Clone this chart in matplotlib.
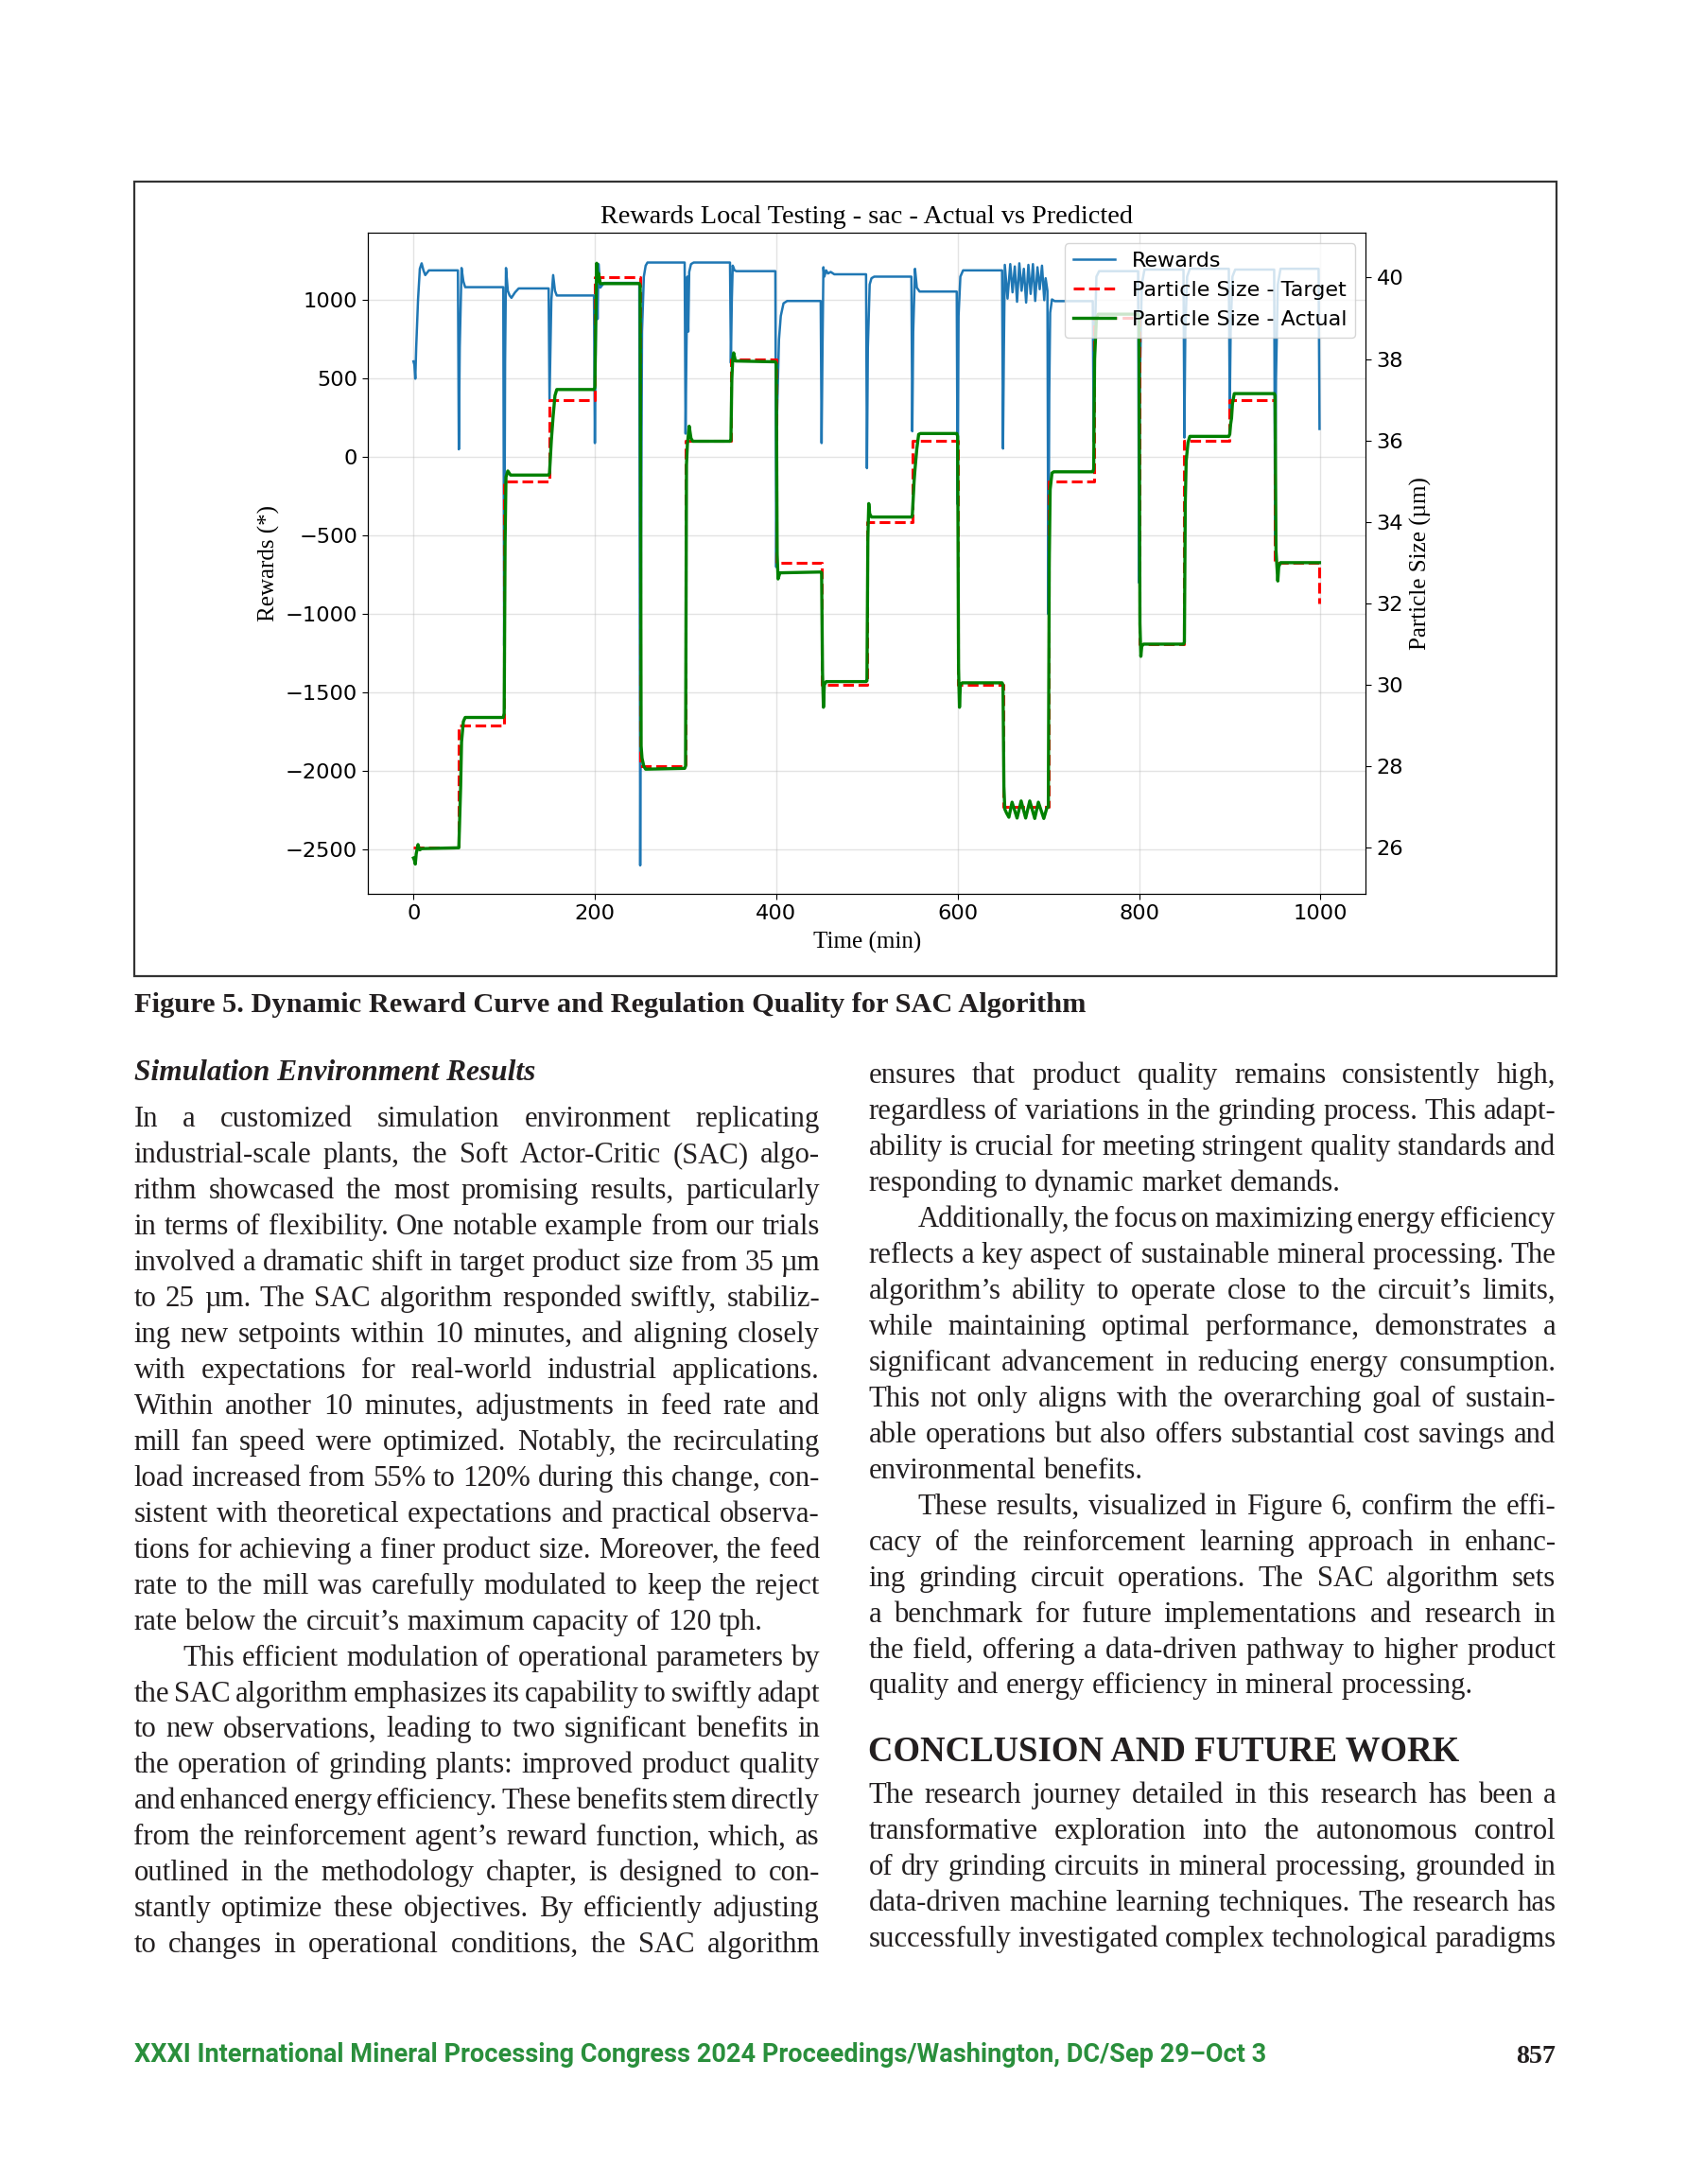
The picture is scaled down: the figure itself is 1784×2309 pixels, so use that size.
import matplotlib
matplotlib.use('Agg')
import matplotlib.pyplot as plt
from matplotlib.patches import Rectangle

W, H = 1784, 2309
DPI = 100

# ---- chart values ----
target_t = [0, 50, 100, 150, 200, 250, 300, 350, 400, 450, 500,
            550, 600, 650, 700, 750, 800, 850, 900, 950, 999]
target_v = [26, 29, 35, 37, 40, 28, 36, 38, 33, 30, 34,
            36, 30, 27, 35, 39, 31, 36, 37, 33, 32]

actual_t = [0, 1, 2, 3, 5, 6, 7, 9, 49,
            50, 52, 53, 55, 57, 99,
            100, 101, 102, 104, 107, 149,
            150, 152, 154, 156, 158, 199,
            200, 201, 202, 203, 204, 206, 249,
            250, 251, 252, 254, 256, 299,
            300, 301, 302, 304, 306, 308, 349,
            350, 351, 352, 353, 355, 399,
            400, 401, 402, 404, 449,
            450, 451, 452, 453, 455, 499,
            500, 501, 502, 503, 505, 549,
            550, 552, 553, 555, 557, 559, 599,
            600, 601, 602, 603, 605, 649,
            650, 651, 652, 654, 656.5, 660, 665.5, 670, 675, 679.5, 685, 689, 695, 698, 699,
            700, 701, 702, 704, 706, 749,
            750, 751, 753, 755, 799,
            800, 801, 802, 803, 805, 849,
            850, 851, 852, 854, 856, 899,
            900, 901, 902, 903, 905, 949,
            950, 951, 953, 954, 956, 999]
actual_v = [25.75, 25.7, 25.6, 25.85, 26.08, 26.0, 25.95, 25.98, 26.0,
            26.0, 27.5, 28.6, 29.1, 29.2, 29.2,
            29.3, 33.5, 35.1, 35.25, 35.15, 35.15,
            35.2, 36.0, 36.6, 37.1, 37.25, 37.25,
            37.3, 39.0, 40.35, 39.9, 40.1, 39.85, 39.85,
            39.8, 28.5, 28.2, 28.0, 27.93, 27.95,
            28.0, 35.4, 35.9, 36.35, 36.05, 35.98, 35.98,
            36.0, 37.5, 38.0, 38.15, 37.95, 37.93,
            37.9, 33.2, 32.6, 32.75, 32.77,
            32.75, 30.3, 29.45, 30.0, 30.08, 30.08,
            30.1, 33.6, 34.45, 34.2, 34.12, 34.12,
            34.15, 35.0, 35.3, 35.8, 36.15, 36.17, 36.17,
            36.1, 30.4, 29.45, 30.0, 30.05, 30.05,
            30.0, 27.5, 26.95, 26.85, 26.75, 27.12, 26.73, 27.15, 26.73, 27.15, 26.72, 27.12, 26.72, 26.95, 27.0,
            27.0, 33.0, 34.8, 35.2, 35.23, 35.23,
            35.3, 38.0, 39.0, 39.1, 39.1,
            39.0, 31.5, 30.7, 30.95, 31.0, 31.0,
            31.05, 34.5, 35.5, 35.95, 36.1, 36.1,
            36.15, 36.4, 36.55, 36.9, 37.15, 37.15,
            37.1, 33.3, 32.55, 32.9, 33.0, 33.0]

reward_t = [0, 1, 2, 3, 5, 7, 9, 11, 13, 15, 17, 49,
            50, 51, 53, 55, 57, 99,
            100, 101, 102, 104, 106, 108, 112, 116, 149,
            150, 152, 154, 156, 158, 199,
            200, 201, 202, 203, 204, 206, 210, 249,
            250, 251, 252, 254, 256, 258, 299,
            300, 301, 302, 303, 304, 306, 309, 349,
            350, 351, 352, 354, 356, 399,
            400, 401, 403, 405, 408, 412, 449,
            450, 451, 452, 453, 455, 457, 460, 464, 499,
            500, 501, 503, 505, 508, 549,
            550, 551, 553, 555, 558, 599,
            600, 601, 603, 606, 649,
            650, 651, 652, 655, 658, 660.5, 663, 665.5, 668, 670.5, 673, 675.5,
            678, 680.5, 683, 685.5, 688, 690.5, 693, 695.5, 697, 699,
            700, 701, 702, 704, 707, 749,
            750, 751, 753, 756, 799,
            800, 801, 803, 806, 849,
            850, 851, 853, 856, 899,
            900, 901, 903, 906, 949,
            950, 951, 953, 956, 998, 999]
reward_v = [610, 590, 500, 700, 1000, 1200, 1235, 1190, 1160, 1175, 1190, 1190,
            50, 700, 1205, 1120, 1083, 1083,
            -1200, 600, 1205, 1060, 1030, 1015, 1050, 1075, 1075,
            370, 1000, 1160, 1060, 1030, 1030,
            90, 800, 1200, 880, 1230, 1080, 1110, 1110,
            -2600, -500, 800, 1150, 1220, 1240, 1240,
            150, 700, 1150, 800, 1180, 1230, 1240, 1240,
            600, 1000, 1220, 1190, 1185, 1185,
            -700, 300, 750, 900, 980, 995, 995,
            90, 700, 1210, 1150, 1190, 1170, 1180, 1165, 1165,
            -70, 700, 1100, 1140, 1150, 1150,
            165, 800, 1200, 1080, 1055, 1055,
            -300, 900, 1150, 1190, 1190,
            55, 700, 1225, 1010, 1230, 1050, 1215, 990, 1235, 1060, 1200, 985,
            1225, 1040, 1230, 995, 1210, 1070, 1220, 1000, 1140, 1060,
            -1000, 400, 920, 1005, 994, 994,
            100, 700, 1150, 1185, 1185,
            -800, 500, 1100, 1195, 1195,
            125, 800, 1150, 1200, 1200,
            300, 800, 1150, 1195, 1195,
            -500, 500, 1100, 1200, 1200, 180]

x_ticks = [0, 200, 400, 600, 800, 1000]
reward_ticks = [1000, 500, 0, -500, -1000, -1500, -2000, -2500]
size_ticks = [26, 28, 30, 32, 34, 36, 38, 40]

# ---- page text ----
caption = 'Figure 5. Dynamic Reward Curve and Regulation Quality for SAC Algorithm'
subheading = 'Simulation Environment Results'
left_lines = [
    'In a customized simulation environment replicating',
    'industrial-scale plants, the Soft Actor-Critic (SAC) algo-',
    'rithm showcased the most promising results, particularly',
    'in terms of flexibility. One notable example from our trials',
    'involved a dramatic shift in target product size from 35 µm',
    'to 25 µm. The SAC algorithm responded swiftly, stabiliz-',
    'ing new setpoints within 10 minutes, and aligning closely',
    'with expectations for real-world industrial applications.',
    'Within another 10 minutes, adjustments in feed rate and',
    'mill fan speed were optimized. Notably, the recirculating',
    'load increased from 55% to 120% during this change, con-',
    'sistent with theoretical expectations and practical observa-',
    'tions for achieving a finer product size. Moreover, the feed',
    'rate to the mill was carefully modulated to keep the reject',
    'rate below the circuit’s maximum capacity of 120 tph.',
    'This efficient modulation of operational parameters by',
    'the SAC algorithm emphasizes its capability to swiftly adapt',
    'to new observations, leading to two significant benefits in',
    'the operation of grinding plants: improved product quality',
    'and enhanced energy efficiency. These benefits stem directly',
    'from the reinforcement agent’s reward function, which, as',
    'outlined in the methodology chapter, is designed to con-',
    'stantly optimize these objectives. By efficiently adjusting',
    'to changes in operational conditions, the SAC algorithm',
]
left_last = [14]
left_indent = [15]
right_lines = [
    'ensures that product quality remains consistently high,',
    'regardless of variations in the grinding process. This adapt-',
    'ability is crucial for meeting stringent quality standards and',
    'responding to dynamic market demands.',
    'Additionally, the focus on maximizing energy efficiency',
    'reflects a key aspect of sustainable mineral processing. The',
    'algorithm’s ability to operate close to the circuit’s limits,',
    'while maintaining optimal performance, demonstrates a',
    'significant advancement in reducing energy consumption.',
    'This not only aligns with the overarching goal of sustain-',
    'able operations but also offers substantial cost savings and',
    'environmental benefits.',
    'These results, visualized in Figure 6, confirm the effi-',
    'cacy of the reinforcement learning approach in enhanc-',
    'ing grinding circuit operations. The SAC algorithm sets',
    'a benchmark for future implementations and research in',
    'the field, offering a data-driven pathway to higher product',
    'quality and energy efficiency in mineral processing.',
]
right_last = [3, 11, 17]
right_indent = [4, 12]
heading = 'CONCLUSION AND FUTURE WORK'
conclusion_lines = [
    'The research journey detailed in this research has been a',
    'transformative exploration into the autonomous control',
    'of dry grinding circuits in mineral processing, grounded in',
    'data-driven machine learning techniques. The research has',
    'successfully investigated complex technological paradigms',
]
footer = 'XXXI International Mineral Processing Congress 2024 Proceedings/Washington, DC/Sep 29–Oct 3'
page_no = '857'

SERIF = 'Liberation Serif'
INK = '#231f20'


def fx(x):
    return x / W


def fy(y):
    return 1 - y / H


def width_of(t, r):
    return t.get_window_extent(r).width


def fit_text(fig, r, x, y, s, width, ha='left', **kw):
    t = fig.text(fx(x), fy(y), s, fontsize=20, ha=ha, va='baseline', **kw)
    t.set_fontsize(20 * width / width_of(t, r))
    return t


def justify(fig, r, line, x0, x1, y, size, last=False, indent=0):
    words = line.split()
    arts = [fig.text(0, fy(y), w, fontsize=size, family=SERIF, color=INK,
                     va='baseline') for w in words]
    widths = [width_of(a, r) for a in arts]
    probe = fig.text(0, 0, 'a a', fontsize=size, family=SERIF)
    single = fig.text(0, 0, 'aa', fontsize=size, family=SERIF)
    space = width_of(probe, r) - width_of(single, r)
    probe.remove()
    single.remove()
    if last or len(words) == 1:
        gap = space
    else:
        gap = (x1 - x0 - indent - sum(widths)) / (len(words) - 1)
    x = x0 + indent
    for a, w in zip(arts, widths):
        a.set_x(fx(x))
        x += w + gap


def draw_chart(fig):
    ax1 = fig.add_axes([fx(389.3), fy(945), (1444.3 - 389.3) / W, (945 - 246) / H])
    l1, = ax1.plot(reward_t, reward_v, color='#1f77b4', lw=1.8, label='Rewards')
    ax1.set_xlim(-50, 1050)
    ax1.set_ylim(-2781, 1430)
    ax1.set_xticks(x_ticks)
    ax1.set_yticks(reward_ticks)
    ax1.grid(True, color='#b0b0b0', alpha=0.35, lw=1)
    ax1.tick_params(labelsize=16.2, length=4.5)
    ax1.set_xlabel('Time (min)', family=SERIF, fontsize=18, labelpad=6)
    ax1.set_ylabel('Rewards (*)', family=SERIF, fontsize=18, labelpad=4)
    ax1.set_title('Rewards Local Testing - sac - Actual vs Predicted',
                  family=SERIF, fontsize=20.3, pad=7)

    ax2 = ax1.twinx()
    l2, = ax2.plot(target_t, target_v, 'r--', lw=2.2, drawstyle='steps-post',
                   label='Particle Size - Target')
    l3, = ax2.plot(actual_t, actual_v, color='green', lw=2.4,
                   label='Particle Size - Actual')
    ax2.set_ylim(24.87, 41.1)
    ax2.set_yticks(size_ticks)
    ax2.tick_params(labelsize=16.2, length=4.5)
    ax2.set_ylabel('Particle Size (µm)', family=SERIF, fontsize=18, labelpad=5)
    ax2.legend([l1, l2, l3], [l.get_label() for l in (l1, l2, l3)],
               loc='upper right', fontsize=16)


def main():
    fig = plt.figure(figsize=(W / DPI, H / DPI), dpi=DPI)
    r = fig.canvas.get_renderer()

    fig.patches.append(Rectangle((fx(141.5), fy(1032)), (1645.5 - 141.5) / W,
                                 (1032 - 191.7) / H, transform=fig.transFigure,
                                 fill=False, lw=1.6, ec='#333333'))
    draw_chart(fig)

    fit_text(fig, r, 141.5, 1070, caption, 1007, family=SERIF,
             weight='bold', color=INK)
    fit_text(fig, r, 141.5, 1142, subheading, 423, family=SERIF,
             weight='bold', style='italic', color=INK)

    # body size fitted on one unjustified line
    probe = fig.text(0, 0, left_lines[14], fontsize=20, family=SERIF)
    size = 20 * 665 / width_of(probe, r)
    probe.remove()

    step = 37.97
    for i, line in enumerate(left_lines):
        justify(fig, r, line, 141.5, 867, 1191 + i * step, size,
                last=i in left_last, indent=52 if i in left_indent else 0)
    for i, line in enumerate(right_lines):
        justify(fig, r, line, 918.5, 1645.5, 1145 + i * step, size,
                last=i in right_last, indent=52 if i in right_indent else 0)
    fit_text(fig, r, 918.5, 1862, heading, 625, family=SERIF,
             weight='bold', color=INK)
    for i, line in enumerate(conclusion_lines):
        justify(fig, r, line, 918.5, 1645.5, 1906 + i * step, size)

    fit_text(fig, r, 141.5, 2180, footer, 1193, family='Roboto',
             weight='bold', color='#2a8f3c')
    fit_text(fig, r, 1645.5, 2181, page_no, 42, ha='right', family=SERIF,
             weight='bold', color=INK)

    fig.savefig('out.png', dpi=DPI)


if __name__ == '__main__':
    main()
